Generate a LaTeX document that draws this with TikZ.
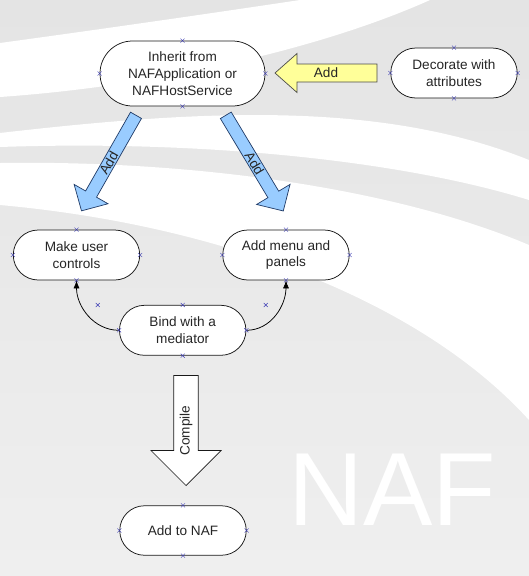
\documentclass[tikz,border=0pt]{standalone}
\usepackage{fontspec}
\setmainfont{Liberation Sans}
\usetikzlibrary{shapes.misc,arrows.meta}

\definecolor{fondHaut}{HTML}{E4E4E4}
\definecolor{fondBas}{HTML}{EFEFEF}
\definecolor{bleuFleche}{HTML}{99CCFF}
\definecolor{bordBleu}{HTML}{1F3A66}
\definecolor{jauneFleche}{HTML}{FFFF99}
\definecolor{croixBleu}{HTML}{3C3CB4}

\begin{document}
\begin{tikzpicture}[x=1pt,y=-1pt,
    etape/.style={rounded rectangle, draw=black!90, line width=0.75pt, fill=white,
        minimum width=126.5pt, minimum height=50pt, inner sep=0pt, align=center,
        text=black!85, font=\fontsize{13.6pt}{16.7pt}\selectfont},
    texteFleche/.style={inner sep=0pt, text=black!85, font=\fontsize{13.6pt}{16pt}\selectfont},
    flecheBleue/.style={draw=bordBleu, line width=0.7pt, fill=bleuFleche},
    flecheJaune/.style={draw=black!70, line width=0.7pt, fill=jauneFleche},
    flecheBlanche/.style={draw=black!90, line width=0.7pt, fill=white},
    lien/.style={draw=black, line width=0.75pt, -{Latex[length=8pt,width=6pt]}},
    croix/.style={draw=croixBleu, line width=0.5pt}]

\useasboundingbox (0,0) rectangle (529,576);

%fond gris et bandes blanches
\shade[top color=fondHaut, bottom color=fondBas] (0,0) rectangle (529,576);
\fill[white] (0,43) .. controls (110,28) and (220,12) .. (300,0) -- (430,0) .. controls (330,45) and (170,85) .. (0,97) -- cycle;
\fill[white] (0,133) .. controls (200,110) and (380,100) .. (529,160) -- (529,200) .. controls (400,160) and (200,140) .. (0,147) -- cycle;
\fill[white] (0,163) .. controls (200,160) and (400,190) .. (529,245) -- (529,420) .. controls (420,300) and (220,225) .. (0,205) -- cycle;

%filigrane
\node[anchor=base, inner sep=0pt, text=white, font=\fontsize{104pt}{104pt}\selectfont] (filigrane) at (392,525) {NAF};

% les etapes
\node[etape, minimum width=165pt, minimum height=65pt] (heriter) at (182.5,73.5) {Inherit from\\NAFApplication or\\NAFHostService};
\node[etape] (decorer) at (454,73) {Decorate with\\attributes};
\node[etape] (controles) at (76.5,255) {Make user\\controls};
\node[etape] (menus) at (286,255) {Add menu and\\panels};
\node[etape] (mediateur) at (182.7,330.3) {Bind with a\\mediator};
\node[etape, minimum height=49.5pt] (naf) at (183,530.5) {Add to NAF};

%grosses fleches : longueur, demi-largeur du corps, demi-largeur de la pointe, longueur de la pointe
\def\FatArrow#1#2#3#4{(0,-#2) -- (#1-#4,-#2) -- (#1-#4,-#3) -- (#1,0) -- (#1-#4,#3) -- (#1-#4,#2) -- (0,#2) -- cycle}

\coordinate (queueJaune) at (377,73);
\coordinate (queueGauche) at (136,115.3);
\coordinate (queueDroite) at (225.8,115.3);
\coordinate (queueBas) at (186,375.5);

\begin{scope}[shift={(queueJaune)},rotate=180]
    \draw[flecheJaune] \FatArrow{102}{9}{19.5}{22};
    \node[texteFleche] (ajoutDecor) at (51,0) {Add};
\end{scope}

\begin{scope}[shift={(queueGauche)},rotate=240.3]
    \draw[flecheBleue] \FatArrow{110}{6.3}{19.5}{19.3};
    \node[texteFleche, rotate=60.3] (ajoutControles) at (55,0) {Add};
\end{scope}

\begin{scope}[shift={(queueDroite)},rotate=-59]
    \draw[flecheBleue] \FatArrow{111.6}{6.3}{19.5}{19.3};
    \node[texteFleche, rotate=-59] (ajoutMenus) at (55.8,0) {Add};
\end{scope}

\begin{scope}[shift={(queueBas)},rotate=-90]
    \draw[flecheBlanche] \FatArrow{110}{12.3}{35}{35};
    \node[texteFleche, rotate=90] (compiler) at (55,0) {Compile};
\end{scope}

% liens courbes
\draw[lien] (mediateur.west) to[out=180,in=-90] (controles.south);
\draw[lien] (mediateur.east) to[out=0,in=-90] (menus.south);

% points de connexion
\coordinate (poigneeGauche) at (97.7,305);
\coordinate (poigneeDroite) at (265.7,305);
\foreach \n in {heriter,decorer,controles,menus,mediateur,naf}{
    \foreach \a in {north,south,east,west}{
        \draw[croix] ([shift={(-2,-2)}]\n.\a) -- ([shift={(2,2)}]\n.\a)
            ([shift={(-2,2)}]\n.\a) -- ([shift={(2,-2)}]\n.\a);
    }
}
\foreach \p in {poigneeGauche,poigneeDroite}{
    \draw[croix] ([shift={(-2,-2)}]\p) -- ([shift={(2,2)}]\p)
        ([shift={(-2,2)}]\p) -- ([shift={(2,-2)}]\p);
}

\end{tikzpicture}
\end{document}
